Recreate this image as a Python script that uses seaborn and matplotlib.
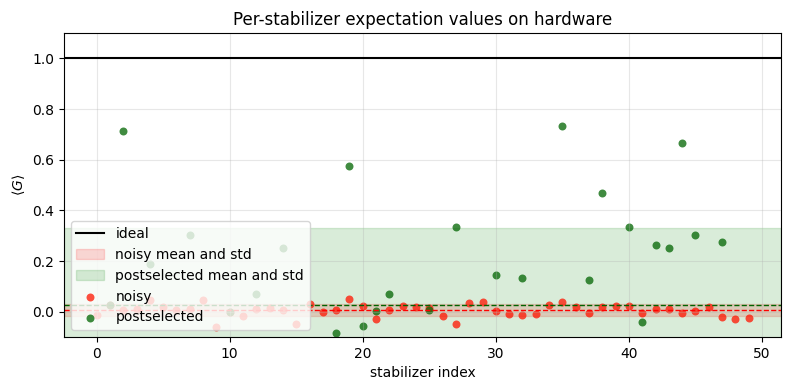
import numpy as np
import pandas as pd
import matplotlib
matplotlib.use("Agg")
import matplotlib.pyplot as plt
import seaborn as sns

# stabilizer indices 0..49
stabilizer_index = list(range(50))

# noisy expectation values
noisy_values = [
    -0.012, 0.025, 0.008, 0.012, 0.047, 0.018, 0.008, 0.010, 0.047, -0.060,
    -0.003, -0.018, 0.010, 0.013, 0.008, -0.048, 0.030, 0.000, 0.007, 0.050,
    0.024, -0.028, 0.008, 0.024, 0.018, 0.015, -0.018, -0.048, 0.035, 0.039,
    0.004, -0.009, -0.013, -0.009, 0.026, 0.039, 0.017, -0.005, 0.018, 0.022,
    0.024, -0.005, 0.012, 0.011, -0.005, 0.004, 0.018, -0.020, -0.028, -0.024,
]

# postselected expectation values (values below -0.1 fall outside the view)
postselected_values = [
    -0.12, 0.028, 0.715, -0.13, 0.19, -0.14, -0.96, 0.303, -0.12, -0.15,
    0.000, -0.38, 0.071, -0.13, 0.25, -0.12, -0.14, -0.13, -0.085, 0.574,
    -0.055, 0.004, 0.071, -0.12, -0.14, 0.005, -0.13, 0.333, -0.12, -0.56,
    0.144, -0.15, 0.133, -0.13, -0.12, 0.735, -0.20, 0.125, 0.467, -0.14,
    0.333, -0.041, 0.263, 0.251, 0.668, 0.302, -0.13, 0.274, -0.14, -0.12,
]

ideal_value = 1.0

df = pd.DataFrame({
    "stabilizer": stabilizer_index,
    "noisy": noisy_values,
    "postselected": postselected_values,
})

noisy_mean, noisy_std = np.mean(noisy_values), np.std(noisy_values)
post_mean, post_std = np.mean(postselected_values), np.std(postselected_values)

fig, ax = plt.subplots(figsize=(7.9, 3.9), dpi=100)

ax.axhline(ideal_value, color="black", lw=1.5, label="ideal")
ax.axhspan(noisy_mean - noisy_std, noisy_mean + noisy_std, color="red", alpha=0.15,
           label="noisy mean and std")
ax.axhspan(post_mean - post_std, post_mean + post_std, color="green", alpha=0.15,
           label="postselected mean and std")
ax.axhline(noisy_mean, color="red", ls="--", lw=1)
ax.axhline(post_mean, color="darkgreen", ls="--", lw=1)

sns.scatterplot(data=df, x="stabilizer", y="noisy", color="#ff1400", alpha=0.75,
                s=33, linewidth=0, label="noisy", ax=ax)
sns.scatterplot(data=df, x="stabilizer", y="postselected", color="#0a6a0a", alpha=0.78,
                s=33, linewidth=0, label="postselected", ax=ax)

ax.set_ylim(-0.1, 1.1)
ax.set_xticks([0, 10, 20, 30, 40, 50])
ax.set_title("Per-stabilizer expectation values on hardware")
ax.set_xlabel("stabilizer index")
ax.set_ylabel(r"$\langle G \rangle$")
ax.grid(True, alpha=0.3)
ax.legend(loc="lower left", framealpha=0.8)

plt.subplots_adjust(left=0.081, right=0.989, top=0.915, bottom=0.136)
plt.savefig("out.png", dpi=100)
